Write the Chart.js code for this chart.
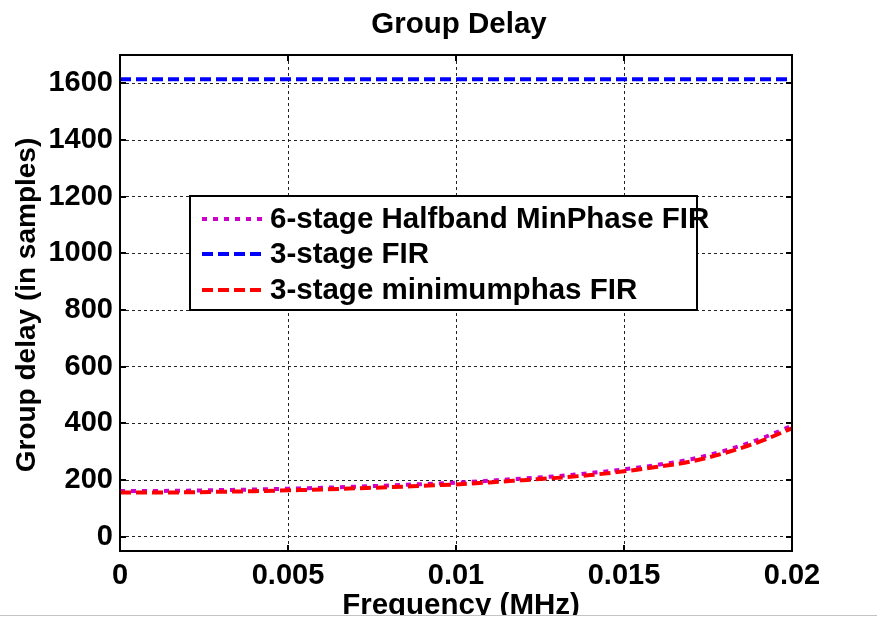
<!DOCTYPE html>
<html>
<head>
<meta charset="utf-8">
<title>Group Delay</title>
<script src="https://cdn.jsdelivr.net/npm/chart.js@4.4.1/dist/chart.umd.min.js"></script>
<style>
  html, body { margin: 0; padding: 0; background: #fff; }
  #wrap { width: 877px; height: 621px; }
</style>
</head>
<body>
<div id="wrap"><canvas id="gd" width="877" height="621"></canvas></div>
<script>
// frequency grid in MHz
const freqMHz = [0, 0.001, 0.002, 0.003, 0.004, 0.005, 0.006, 0.007, 0.008, 0.009, 0.01,
  0.011, 0.012, 0.013, 0.014, 0.015, 0.016, 0.017, 0.018, 0.019, 0.02]

// group delay in samples
const halfbandMinPhase = [162, 162, 163, 165, 167, 170, 173, 177, 181, 186, 191,
  198, 206, 214, 225, 238, 254, 274, 304, 343, 392]
const fir3Stage = [1614, 1614, 1614, 1614, 1614, 1614, 1614, 1614, 1614, 1614, 1614,
  1614, 1614, 1614, 1614, 1614, 1614, 1614, 1614, 1614, 1614]
const minPhase3Stage = [156, 156, 157, 159, 161, 164, 167, 171, 175, 180, 185,
  192, 200, 208, 218, 231, 247, 266, 296, 334, 383]

const xTickValues = [0, 0.005, 0.01, 0.015, 0.02]
const xTickLabels = ['0', '0.005', '0.01', '0.015', '0.02']
const yTickValues = [0, 200, 400, 600, 800, 1000, 1200, 1400, 1600]

const FAMILY = '"Liberation Sans", Arial, Helvetica, sans-serif'
const FONT_PX = 29.5
const tickFont = { family: FAMILY, size: 29, weight: 'bold' }

const toPoints = ys => ys.map((y, i) => ({ x: freqMHz[i], y }))

// axes box, inward tick marks, titles, legend
const decorations = {
  id: 'decorations',
  afterDraw(chart) {
    const { ctx, chartArea: a, scales } = chart
    ctx.save()

    // box + ticks
    ctx.strokeStyle = '#000'
    ctx.lineWidth = 2
    ctx.setLineDash([])
    ctx.strokeRect(a.left, a.top, a.right - a.left, a.bottom - a.top)
    ctx.beginPath()
    xTickValues.forEach(v => {
      const px = Math.round(scales.x.getPixelForValue(v))
      ctx.moveTo(px, a.bottom); ctx.lineTo(px, a.bottom - 6)
      ctx.moveTo(px, a.top); ctx.lineTo(px, a.top + 6)
    })
    yTickValues.forEach(v => {
      const py = Math.round(scales.y.getPixelForValue(v))
      ctx.moveTo(a.left, py); ctx.lineTo(a.left + 6, py)
      ctx.moveTo(a.right, py); ctx.lineTo(a.right - 6, py)
    })
    ctx.stroke()

    // titles
    ctx.fillStyle = '#000'
    ctx.font = 'bold ' + FONT_PX + 'px ' + FAMILY
    ctx.textAlign = 'center'
    ctx.textBaseline = 'alphabetic'
    ctx.fillText('Group Delay', 459, 33)
    ctx.fillText('Frequency (MHz)', 461, 614)
    ctx.save()
    ctx.font = 'bold 28px ' + FAMILY
    ctx.translate(35, 305)
    ctx.rotate(-Math.PI / 2)
    ctx.fillText('Group delay (in samples)', 0, 0)
    ctx.restore()

    // legend
    const box = { left: 190, top: 196, right: 697, bottom: 310 }
    ctx.fillStyle = '#fff'
    ctx.fillRect(box.left, box.top, box.right - box.left, box.bottom - box.top)
    ctx.strokeStyle = '#000'
    ctx.lineWidth = 2
    ctx.strokeRect(box.left, box.top, box.right - box.left, box.bottom - box.top)
    const rows = [219, 254, 290]
    chart.data.datasets.forEach((ds, i) => {
      const y = rows[i]
      ctx.strokeStyle = ds.borderColor
      ctx.lineWidth = ds.borderWidth
      ctx.setLineDash(ds.borderDash)
      ctx.beginPath()
      ctx.moveTo(202, y); ctx.lineTo(265, y)
      ctx.stroke()
      ctx.setLineDash([])
      ctx.fillStyle = '#000'
      ctx.textAlign = 'left'
      ctx.textBaseline = 'middle'
      ctx.fillText(ds.label, 270, y + 1)
    })

    // bottom edge
    ctx.fillStyle = '#fff'
    ctx.fillRect(0, 616, chart.width, 5)
    ctx.fillStyle = '#c4c4c4'
    ctx.fillRect(0, 615, chart.width, 1)
    ctx.restore()
  }
}

new Chart(document.getElementById('gd').getContext('2d'), {
  type: 'line',
  data: {
    datasets: [
      { label: '6-stage Halfband MinPhase FIR', data: toPoints(halfbandMinPhase),
        borderColor: '#cc00cc', borderWidth: 4, borderDash: [5, 6], order: 2 },
      { label: '3-stage FIR', data: toPoints(fir3Stage),
        borderColor: '#0000ff', borderWidth: 4, borderDash: [11, 5], order: 1 },
      { label: '3-stage minimumphas FIR', data: toPoints(minPhase3Stage),
        borderColor: '#ff0000', borderWidth: 4, borderDash: [11, 5], order: 0 }
    ]
  },
  options: {
    responsive: false,
    animation: false,
    devicePixelRatio: 1,
    layout: { padding: { top: 55, right: 85, left: 0, bottom: 0 } },
    elements: {
      point: { radius: 0 },
      line: { cubicInterpolationMode: 'monotone', fill: false }
    },
    plugins: {
      legend: { display: false },
      tooltip: { enabled: false },
      title: { display: false }
    },
    scales: {
      x: {
        type: 'linear',
        min: 0,
        max: 0.02,
        afterBuildTicks: s => { s.ticks = xTickValues.map(v => ({ value: v })) },
        afterFit: s => { s.height = 70 },
        ticks: {
          font: tickFont, color: '#000', padding: 8, maxRotation: 0, autoSkip: false,
          callback: v => xTickLabels[xTickValues.indexOf(v)]
        },
        grid: { color: '#222', lineWidth: 1, drawTicks: false },
        border: { display: false, dash: [3, 3] }
      },
      y: {
        type: 'linear',
        min: -50,
        max: 1700,
        afterBuildTicks: s => { s.ticks = yTickValues.map(v => ({ value: v })) },
        afterFit: s => { s.width = 120 },
        ticks: { font: tickFont, color: '#000', padding: 7, autoSkip: false, callback: v => String(v) },
        grid: { color: '#222', lineWidth: 1, drawTicks: false },
        border: { display: false, dash: [3, 3] }
      }
    }
  },
  plugins: [decorations]
})
</script>
</body>
</html>
